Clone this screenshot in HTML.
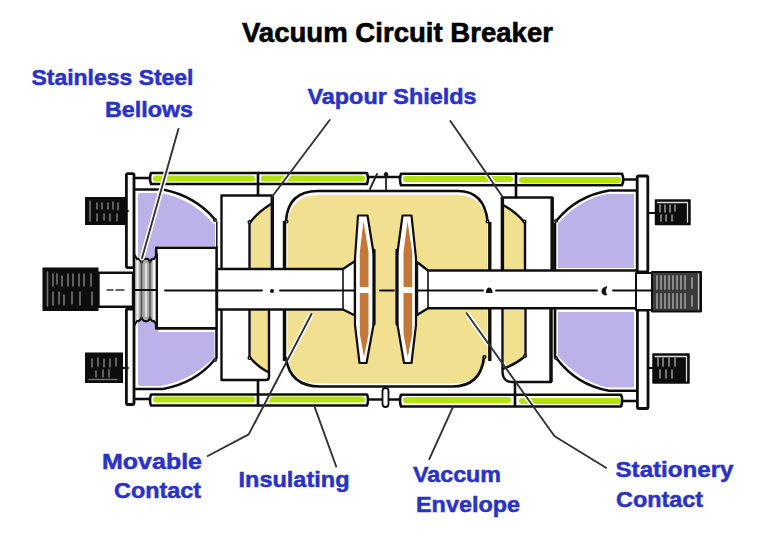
<!DOCTYPE html>
<html><head><meta charset="utf-8">
<style>
html,body{margin:0;padding:0;background:#fff;}
svg{display:block;}
.lbl{font-family:"Liberation Sans",sans-serif;font-weight:bold;fill:#2a32c6;stroke:#2a32c6;stroke-width:0.5px;}
.ttl{font-family:"Liberation Sans",sans-serif;font-weight:bold;fill:#000;stroke:#000;stroke-width:0.6px;}
</style></head>
<body>
<svg width="780" height="542" viewBox="0 0 780 542">
<defs><filter id="soft" x="-2%" y="-2%" width="104%" height="104%"><feGaussianBlur stdDeviation="0.55"/></filter></defs>
<rect width="780" height="542" fill="#fff"/>

<!-- Title -->
<text class="ttl" x="242" y="41.7" font-size="27" textLength="311" lengthAdjust="spacingAndGlyphs">Vacuum Circuit Breaker</text>

<!-- Labels -->
<text class="lbl" x="31.5" y="84.5" font-size="22" textLength="162" lengthAdjust="spacingAndGlyphs">Stainless Steel</text>
<text class="lbl" x="105" y="116.5" font-size="22" textLength="88" lengthAdjust="spacingAndGlyphs">Bellows</text>
<text class="lbl" x="307.5" y="103.7" font-size="22" textLength="169" lengthAdjust="spacingAndGlyphs">Vapour Shields</text>
<text class="lbl" x="102" y="469.4" font-size="22" textLength="100" lengthAdjust="spacingAndGlyphs">Movable</text>
<text class="lbl" x="114" y="497.8" font-size="22" textLength="87" lengthAdjust="spacingAndGlyphs">Contact</text>
<text class="lbl" x="238.5" y="487.4" font-size="22" textLength="111" lengthAdjust="spacingAndGlyphs">Insulating</text>
<text class="lbl" x="413" y="482.4" font-size="22" textLength="88" lengthAdjust="spacingAndGlyphs">Vaccum</text>
<text class="lbl" x="416" y="511.5" font-size="22" textLength="104" lengthAdjust="spacingAndGlyphs">Envelope</text>
<text class="lbl" x="615.5" y="477" font-size="22" textLength="118" lengthAdjust="spacingAndGlyphs">Stationery</text>
<text class="lbl" x="616" y="507.4" font-size="22" textLength="87" lengthAdjust="spacingAndGlyphs">Contact</text>

<!-- ===== Diagram ===== -->
<g stroke-linejoin="round" stroke-linecap="round" filter="url(#soft)">
<!-- envelope fill -->
<path d="M287.5,224 Q290,195 319,195 H457 Q483,195 487.5,224 V355 Q483,383.5 452,383.5 H321 Q291,383.5 287.5,358 Z" fill="#f1e08f"/>

<!-- purple fills -->
<path d="M138,196 Q138,193 141,193 H161 Q192,199 212,222.5 L215,224 V246 H158 V262 H138 Z" fill="#bcb1e8"/>
<path d="M138,318 H158 V332 H214.5 V357 Q192,380 161,386 H141 Q138,386 138,383 Z" fill="#bcb1e8"/>
<path d="M634,194 H607 Q580,199 558,223.5 V268 H634 Z" fill="#bcb1e8"/>
<path d="M634,312 H558 V356 Q580,381 607,387.5 H634 Z" fill="#bcb1e8"/>

<!-- shield yellow strips -->
<path d="M250.5,222 Q260,210 270,205 V268 H250.5 Z" fill="#f1e08f"/>
<path d="M250.5,358 Q260,367 268,371 V310 H250.5 Z" fill="#f1e08f"/>
<path d="M524,222 Q515,212 504,205 V269 H524 Z" fill="#f1e08f"/>
<path d="M524,356 Q515,364 504,369 V310 H524 Z" fill="#f1e08f"/>

<!-- insulator bands -->
<rect x="367" y="171" width="33" height="15" fill="#fff"/>
<rect x="367" y="393" width="33" height="15" fill="#fff"/>
<g fill="#b2e30c">
<rect x="153" y="175.5" width="102" height="6" rx="3"/>
<rect x="261" y="175.5" width="104" height="6" rx="3"/>
<rect x="403" y="176" width="110" height="6" rx="3"/>
<rect x="519" y="177" width="102" height="6" rx="3"/>
<rect x="153" y="396.5" width="102" height="6" rx="3"/>
<rect x="266" y="396.5" width="99" height="6" rx="3"/>
<rect x="403" y="397" width="108" height="6" rx="3"/>
<rect x="519" y="398" width="102" height="6" rx="3"/>
</g>
<g stroke="#fff" stroke-width="5" fill="none" stroke-linecap="butt">
<path d="M329.7,120 L272.4,196.3"/>
<path d="M450.4,121 L502,196"/>
<path d="M248.7,434.4 L311.5,314"/>
<path d="M314.8,407.4 L336.2,466.5"/>
<path d="M452.9,407.1 L429.3,459.1"/>
<path d="M554.6,436.2 L466.6,313.3"/>
</g>
<g fill="none" stroke="#111" stroke-width="2.6">
<path d="M151,173 H367 Q369,178.5 367,184 H151 Q149,178.5 151,173 Z"/>
<path d="M401,173.8 H622 Q624.5,179.5 622,185.3 H401 Q399,179.5 401,173.8 Z"/>
<path d="M151,394.5 H367 Q369,400 367,405.5 H151 Q149,400 151,394.5 Z"/>
<path d="M401,394.8 H621 Q623.5,400.5 621,406.5 H401 Q399,400.5 401,394.8 Z"/>
<path d="M258,173 V195 M516,173.5 V197.5"/>
<path d="M258,380.5 V405.5 M515,382 V406"/>
</g>
<g fill="none" stroke="#111" stroke-width="2.4">
<path d="M135,178 H150 M623,179.5 H637 M135,399 H150 M622,401 H637"/>
<path d="M368,177 H400 M368,399.5 H400"/>
</g>
<path d="M370,189 L377,174 M386,190 V173" stroke="#222" stroke-width="1.8"/>
<circle cx="386" cy="174.5" r="2.2" fill="#111"/>
<rect x="382.5" y="388" width="6" height="19" rx="3" fill="#fff" stroke="#111" stroke-width="1.8"/>

<!-- inner housing arcs -->
<g fill="none" stroke="#111" stroke-width="2.6">
<path d="M135,189.5 H163 Q195,196 214.5,219"/>
<path d="M135,389 H163 Q195,383 214.5,360"/>
<path d="M637,190.5 H609 Q577,196 557,220"/>
<path d="M637,390.8 H609 Q577,385 557,359"/>
<circle cx="215" cy="220" r="1.3" fill="#fff" stroke-width="1.5"/>
<circle cx="215" cy="360" r="1.3" fill="#fff" stroke-width="1.5"/>
<circle cx="556" cy="221" r="1.3" fill="#fff" stroke-width="1.5"/>
<circle cx="556" cy="358" r="1.3" fill="#fff" stroke-width="1.5"/>
<path d="M555,224 V270 M555,308 V357 M216.5,328 V358"/>
<path d="M216.8,222 V248" stroke-width="1.5"/>
</g>

<!-- shields -->
<g fill="none" stroke="#111" stroke-width="2.4">
<path d="M221.5,268 V195.5 H272"/>
<path d="M221.5,310 V380 H266 Q269,380 269,377 V310"/>
<path d="M249.5,268 V223 Q258,212 271,204"/>
<path d="M249.5,310 V357 Q258,367 268,372"/>
<path d="M552,270 V197.5 H502"/>
<path d="M551,309 V382 H512 Q503,382 502.5,372 V309"/>
<path d="M525,270 V223 Q516,212 503,205"/>
<path d="M525.5,309 V356 Q516,364 503,369"/>
<circle cx="249.5" cy="222" r="1.3" fill="#fff" stroke-width="1.5"/>
<circle cx="249.5" cy="358" r="1.3" fill="#fff" stroke-width="1.5"/>
<circle cx="524.5" cy="221.5" r="1.3" fill="#fff" stroke-width="1.5"/>
<circle cx="525" cy="356" r="1.3" fill="#fff" stroke-width="1.5"/>
</g>
<g fill="none" stroke="#111" stroke-width="3.4" stroke-linecap="butt">
<path d="M272.3,195 V268 M502.4,197 V270 M552.2,197 V270 M551,309 V382"/>
<path d="M284.5,221 V270 M284.5,308 V361"/>
<path d="M489.8,222 V270 M489.8,308 V361"/>
</g>
<!-- envelope outline -->
<g fill="none" stroke="#111" stroke-width="2.6">
<path d="M286,221 Q288,191 318,191 H458 Q484,191 487.6,221"/>
<path d="M286,358 Q290,386.5 320,386.5 H452 Q481,386.5 484,357"/>
<circle cx="286.5" cy="221.5" r="1.3" fill="#fff" stroke-width="1.5"/>
<circle cx="487.5" cy="221.5" r="1.3" fill="#fff" stroke-width="1.5"/>
<circle cx="484.5" cy="357" r="1.3" fill="#fff" stroke-width="1.5"/>
</g>

<!-- end plates -->
<g fill="#fff" stroke="#111" stroke-width="2.8">
<rect x="126.4" y="173.6" width="7.6" height="94" rx="1.5"/>
<rect x="126.4" y="309" width="7.6" height="95.5" rx="1.5"/>
<rect x="637.2" y="176" width="10.6" height="96" rx="1.5"/>
<rect x="637.4" y="310" width="10.6" height="98.5" rx="1.5"/>
</g>

<!-- left moving contact block + short rod -->
<rect x="98.5" y="272.8" width="34.5" height="34" fill="#fff" stroke="#111" stroke-width="2.4"/>
<rect x="156.2" y="247.8" width="60.4" height="80.6" fill="#fff" stroke="#111" stroke-width="2.6"/>
<!-- bellows -->
<g>
<path d="M134,254 L137,259 Q140,258 141.5,263 Q143,258 146,259 Q149,258 150,263 Q151,258 154,259 L157,254 V326 L154,321 Q151,322 150,317 Q149,322 146,321 Q143,322 141.5,317 Q140,322 137,321 L134,326 Z" fill="#a8a8a8" stroke="#111" stroke-width="2"/>
<path d="M137.5,261 V319 M153.8,261 V319" stroke="#f4f4f4" stroke-width="2.2"/>
<path d="M146,264 V316" stroke="#dcdcdc" stroke-width="2.2"/>
<path d="M141.5,262 V318 M150,262 V318" stroke="#555" stroke-width="1.5"/>
<path d="M134.5,290 H157" stroke="#111" stroke-width="2"/>
</g>
<path d="M107,290 H113 M116,290 H124" stroke="#333" stroke-width="1.5"/>

<!-- rod -->
<path d="M217,269 H343 L355,261 V315.5 L343,309.5 H217 Z" fill="#fff" stroke="#111" stroke-width="2.4"/>
<path d="M343,269 V309.5" stroke="#111" stroke-width="1.6"/>
<path d="M636,270.5 H428 L417,262 V315 L428,308.3 H636" fill="#fff" stroke="#111" stroke-width="2.4"/>
<path d="M428,270.5 V308.3" stroke="#111" stroke-width="1.6"/>
<rect x="636" y="273" width="16" height="37" fill="#fff" stroke="#111" stroke-width="2"/>

<!-- electrodes -->
<path d="M358,215.5 H367.5 L374,256 V322 L366.5,363 H359.5 L355,325 V258 Z" fill="#fff" stroke="#111" stroke-width="2.2" stroke-linejoin="round"/>
<path d="M402.5,215.5 H411.5 L416,258 V325 L411.5,363 H404 L397,322 V256 Z" fill="#fff" stroke="#111" stroke-width="2.2" stroke-linejoin="round"/>
<path d="M363.5,221 L368.5,252 V287 H359.8 V252 Z M359.8,293 H368.5 V334 L364,357 L359.8,334 Z" fill="#c47838"/>
<path d="M407.5,221 L412.2,252 V287 H403.5 V252 Z M403.5,293 H412.2 V334 L407.8,357 L403.5,334 Z" fill="#c47838"/>
<path d="M374,250 V324 M397,250 V324" stroke="#111" stroke-width="3.2" fill="none"/>

<!-- center line -->
<path d="M165,290.5 H262 M280,290.5 H355 M380,290.5 H394 M417,290.5 H483 M496,290.5 H597 M613,290.5 H660" stroke="#111" stroke-width="1.8"/>
<circle cx="272" cy="291" r="2" fill="#111"/>
<path d="M486,293 Q486,287.5 489.5,287.5 Q492.5,288 492.5,293 Z" fill="#111"/>
<path d="M606.5,287 Q602,287.5 602,291 Q602,295 606.5,295 Q604,291 606.5,287 Z" fill="#111" stroke="#111" stroke-width="1"/>

<!-- black blocks -->
<rect x="85" y="197" width="40" height="28" fill="#0a0a0a"/>
<rect x="42.5" y="267.5" width="56" height="43.5" fill="#0a0a0a"/>
<rect x="85" y="352.5" width="38" height="30.5" fill="#0a0a0a"/>
<g stroke="#bbb" stroke-width="1.6" opacity="0.6">
<path d="M90,201 V221 M97,203 V209 M102,203 V209 M108,203 V209 M113,202 V209 M118,203 V210 M97,214 V221 M104,214 V220 M110,214 V221 M117,214 V221"/>
<path d="M47.5,272 V306 M53,274 V286 M57,274 V284 M62,276 V286 M68,274 V286 M73,274 V286 M79,274 V286 M84,274 V286 M91,274 V286 M53,292 V305 M59,292 V304 M64,295 V305 M72,292 V304 M80,292 V305 M92,292 V305"/>
<path d="M92,359 V367 M98,358 V366 M104,359 V367 M110,359 V367 M116,358 V366 M96,371 V377 M103,370 V377 M109,370 V377 M89,379.5 H117"/>
</g>
<path d="M123,211 H128 M121,368 H128" stroke="#111" stroke-width="1.8"/>

<rect x="655.5" y="200" width="34.5" height="24.5" fill="#0a0a0a" stroke="#111" stroke-width="1.5"/>
<path d="M657.5,202.5 H687.5 V222" fill="none" stroke="#ddd" stroke-width="1.3"/>
<rect x="652" y="272" width="49" height="39.5" fill="#3a3a3a" stroke="#111" stroke-width="2"/>
<path d="M698.5,274 V309" stroke="#ccc" stroke-width="1.2"/>
<rect x="653" y="354" width="36" height="29" fill="#0a0a0a" stroke="#111" stroke-width="1.5"/>
<path d="M655,356.5 H686.5 V381" fill="none" stroke="#ddd" stroke-width="1.3"/>
<g stroke="#aaa" stroke-width="1.6" opacity="0.85">
<path d="M660,205 V212 M665,205 V212 M670,205 V212 M675,205 V211 M661,215 V221 M666,215 V221 M672,215 V221"/>
<path d="M658,358 V366 M663,358 V366 M669,358 V366 M675,358 V366 M660,370 V378 M666,370 V378 M672,370 V378"/>
</g>
<g stroke="#8a8a8a" stroke-width="2">
<path d="M657,276 V289 M661,276 V289 M665,276 V289 M669,276 V289 M673,276 V289 M677,276 V289 M681,276 V289 M685,276 V289 M692,278 V288"/>
<path d="M657,294 V308 M661,294 V308 M665,294 V308 M669,294 V308 M673,294 V308 M677,294 V308 M681,294 V308 M685,294 V308 M692,296 V306"/>
</g>
<path d="M649,213 H656 M649,368 H653" stroke="#111" stroke-width="1.8"/>

<!-- leader lines -->
<g stroke="#333" stroke-width="1.9" fill="none">
<path d="M178.4,129 L142,258" stroke="#fff" stroke-width="5"/>
<path d="M178.4,129 L142,258"/>
<path d="M329.7,120 L272.4,196.3"/>
<path d="M450.4,121 L502,196"/>
<path d="M207.8,456 L248.7,434.4 L311.5,314"/>
<path d="M314.8,407.4 L336.2,466.5"/>
<path d="M452.9,407.1 L429.3,459.1"/>
<path d="M606,467.8 L554.6,436.2 L466.6,313.3"/>
</g>
</g>
</svg>
</body></html>
